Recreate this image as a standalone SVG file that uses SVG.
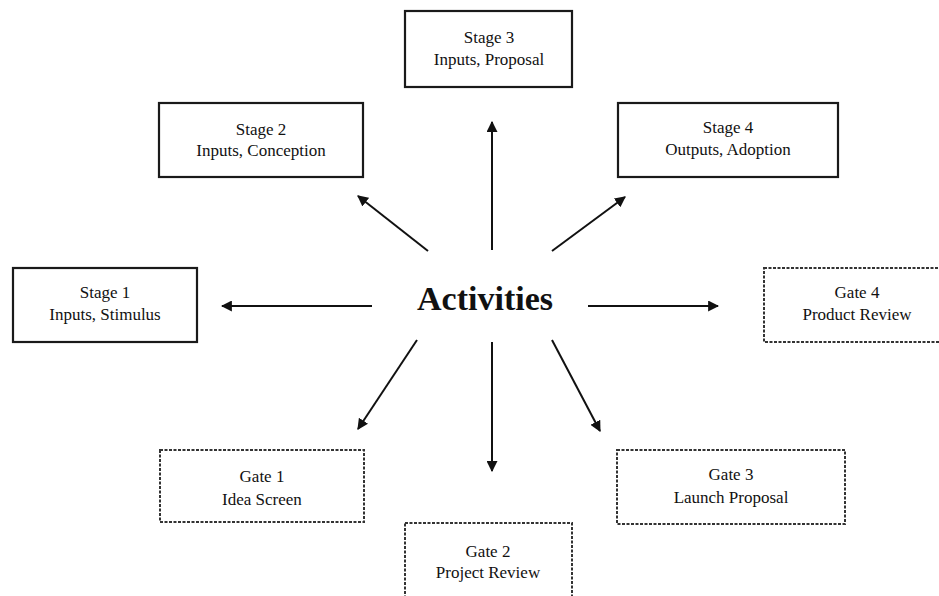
<svg xmlns="http://www.w3.org/2000/svg" width="939" height="596" viewBox="0 0 939 596">
  <style>
    .stage rect { fill: #ffffff; stroke: #1a1a1a; stroke-width: 2.2; }
    .gate rect { fill: #ffffff; stroke: #333333; stroke-width: 2; stroke-dasharray: 3 1.5; }
    .label { font-family: "Liberation Serif", "Times New Roman", serif; font-size: 17px; fill: #111111; text-anchor: middle; }
    .hub { font-family: "Liberation Serif", "Times New Roman", serif; font-size: 34px; font-weight: bold; fill: #111111; text-anchor: middle; }
    .arrow { stroke: #111111; stroke-width: 2; fill: none; marker-end: url(#head); }
  </style>
  <defs>
    <marker id="head" viewBox="0 0 10 10" refX="9" refY="5" markerWidth="5.5" markerHeight="5.5" orient="auto" markerUnits="strokeWidth">
      <path d="M0,0 L10,5 L0,10 z" fill="#111111"/>
    </marker>
  </defs>
  <rect width="939" height="596" fill="#ffffff"/>

  <!-- central hub -->
  <g id="activities">
    <text class="hub" x="485" y="310">Activities</text>
  </g>

  <!-- stages -->
  <g id="stage1" class="stage">
    <rect x="13" y="268" width="184" height="74"/>
    <text class="label" x="105" y="298">Stage 1</text>
    <text class="label" x="105" y="320">Inputs, Stimulus</text>
  </g>
  <g id="stage2" class="stage">
    <rect x="159" y="103" width="204" height="74"/>
    <text class="label" x="261" y="135">Stage 2</text>
    <text class="label" x="261" y="156">Inputs, Conception</text>
  </g>
  <g id="stage3" class="stage">
    <rect x="405" y="11" width="167" height="76"/>
    <text class="label" x="489" y="43">Stage 3</text>
    <text class="label" x="489" y="65">Inputs, Proposal</text>
  </g>
  <g id="stage4" class="stage">
    <rect x="618" y="103" width="220" height="74"/>
    <text class="label" x="728" y="133">Stage 4</text>
    <text class="label" x="728" y="155">Outputs, Adoption</text>
  </g>

  <!-- gates -->
  <g id="gate1" class="gate">
    <rect x="160" y="450" width="204" height="72"/>
    <text class="label" x="262" y="482">Gate 1</text>
    <text class="label" x="262" y="505">Idea Screen</text>
  </g>
  <g id="gate2" class="gate">
    <rect x="405" y="523" width="167" height="80"/>
    <text class="label" x="488" y="557">Gate 2</text>
    <text class="label" x="488" y="578">Project Review</text>
  </g>
  <g id="gate3" class="gate">
    <rect x="617" y="450" width="228" height="74"/>
    <text class="label" x="731" y="480">Gate 3</text>
    <text class="label" x="731" y="503">Launch Proposal</text>
  </g>
  <g id="gate4" class="gate">
    <rect x="764" y="268" width="190" height="74"/>
    <text class="label" x="857" y="298">Gate 4</text>
    <text class="label" x="857" y="320">Product Review</text>
  </g>

  <!-- connectors -->
  <g id="connectors">
    <line class="arrow" x1="492" y1="250" x2="492" y2="122"/>
    <line class="arrow" x1="428" y1="251" x2="358" y2="196"/>
    <line class="arrow" x1="552" y1="251" x2="625" y2="197"/>
    <line class="arrow" x1="372" y1="306" x2="222" y2="306"/>
    <line class="arrow" x1="588" y1="306" x2="718" y2="306"/>
    <line class="arrow" x1="417" y1="340" x2="358" y2="429"/>
    <line class="arrow" x1="492" y1="342" x2="492" y2="471"/>
    <line class="arrow" x1="552" y1="340" x2="600" y2="431"/>
  </g>
</svg>
